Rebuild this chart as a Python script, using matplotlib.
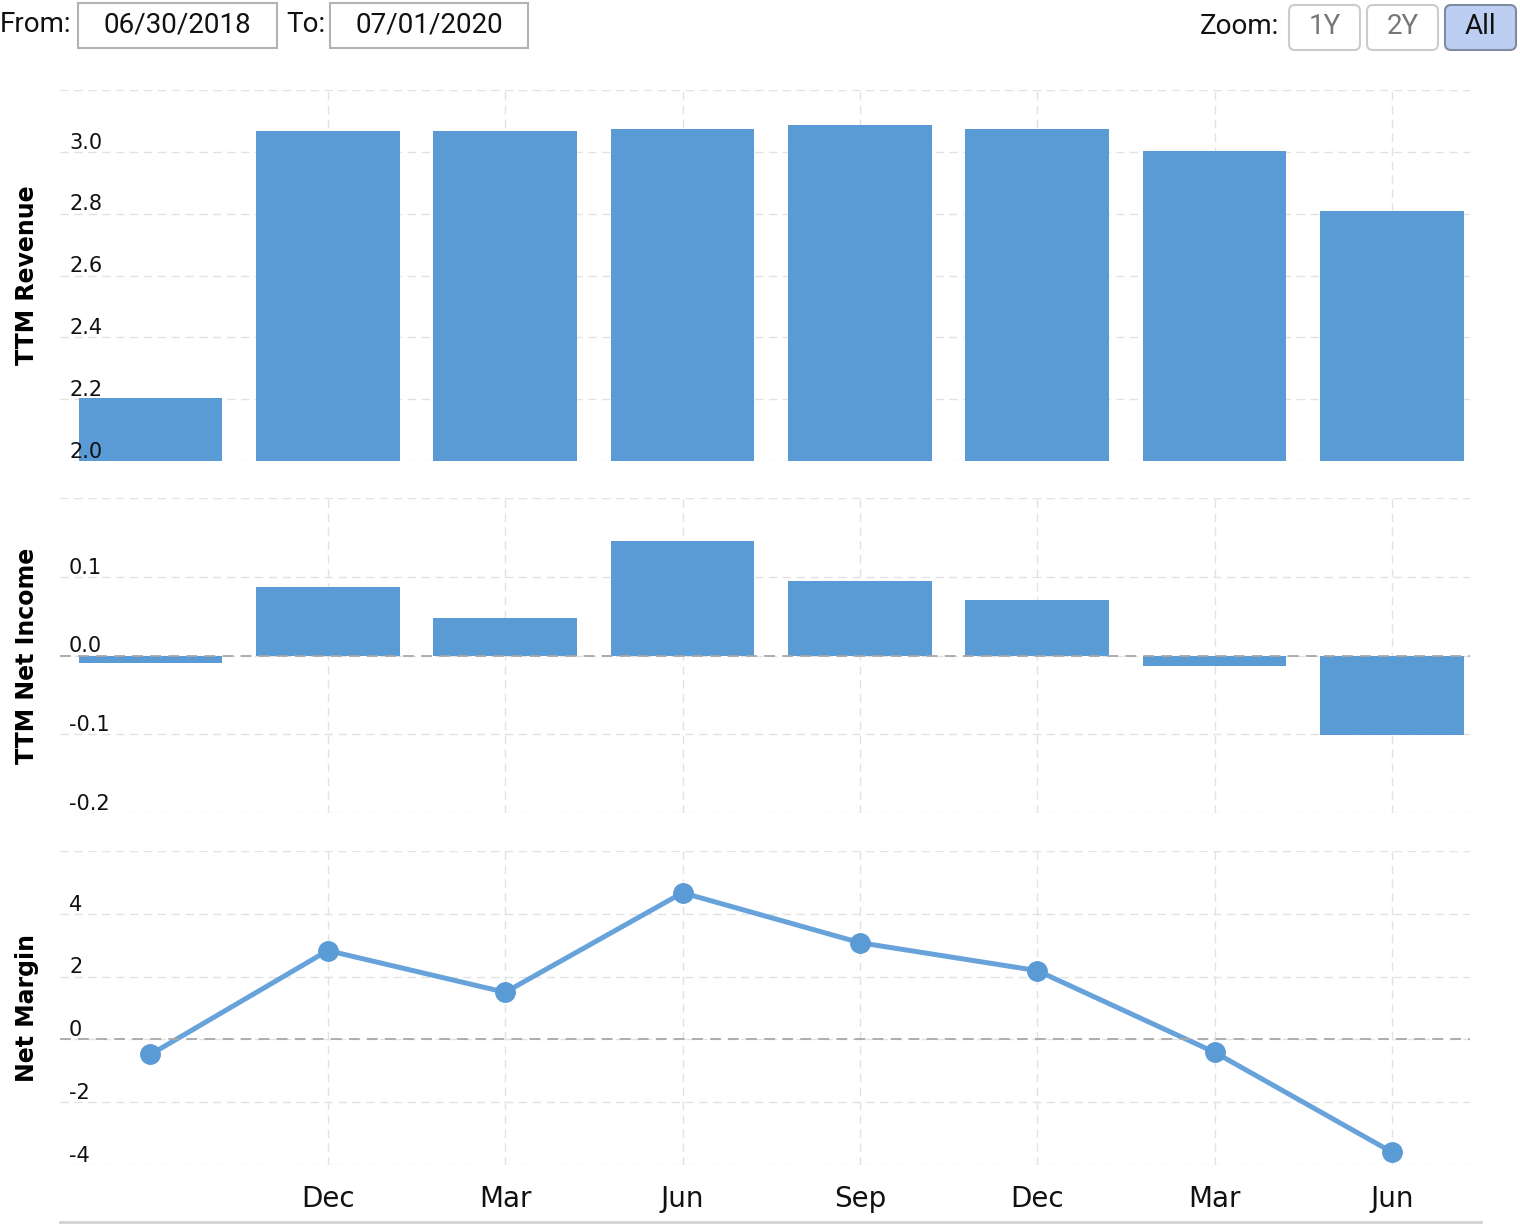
import matplotlib.pyplot as plt
from matplotlib.patches import FancyBboxPatch
from matplotlib.transforms import blended_transform_factory

# Quarterly data (TTM values, revenue / net income in billions, margin in %)
quarters = ["Sep 2018", "Dec 2018", "Mar 2019", "Jun 2019",
            "Sep 2019", "Dec 2019", "Mar 2020", "Jun 2020"]
month_labels = ["Dec", "Mar", "Jun", "Sep", "Dec", "Mar", "Jun"]
ttm_revenue = [2.203, 3.068, 3.068, 3.075, 3.088, 3.075, 3.003, 2.808]
ttm_net_income = [-0.010, 0.087, 0.047, 0.146, 0.095, 0.070, -0.013, -0.101]
net_margin = [-0.48, 2.83, 1.50, 4.67, 3.08, 2.19, -0.41, -3.59]

revenue_ticks = [2.0, 2.2, 2.4, 2.6, 2.8, 3.0, 3.2]
revenue_labels = ["2.0", "2.2", "2.4", "2.6", "2.8", "3.0", ""]
income_ticks = [-0.2, -0.1, 0.0, 0.1, 0.2]
income_labels = ["-0.2", "-0.1", "0.0", "0.1", ""]
margin_ticks = [-4, -2, 0, 2, 4, 6]
margin_labels = ["-4", "-2", "0", "2", "4", ""]

W, H = 1520, 1224
BLUE = "#5b9bd5"
GRID = "#e2e2e2"
DASH = (0, (6, 4))


def style_panel(ax, ticks, labels, ylabel, zero_line=False):
    """Common look for the three stacked panels."""
    x = range(len(quarters))
    ax.set_xlim(-0.51, 7.44)
    ax.set_ylim(ticks[0], ticks[-1])
    for spine in ax.spines.values():
        spine.set_visible(False)
    ax.set_yticks(ticks)
    ax.set_xticks(list(x)[1:])
    ax.tick_params(left=False, labelleft=False, bottom=False, labelbottom=False)
    ax.grid(True, color=GRID, linestyle=DASH, linewidth=1.0)
    ax.set_axisbelow(True)

    # tick labels sit inside the plot, just above their grid line
    trans = blended_transform_factory(ax.transAxes, ax.transData)
    for val, lab in zip(ticks, labels):
        ax.annotate(lab, xy=(0, val), xycoords=trans, xytext=(6.5, 2.3),
                    textcoords="offset points", ha="left", va="baseline",
                    fontsize=15, color="#111111", zorder=6)

    if zero_line:
        ax.axhline(0, color="#a8a8a8", linestyle=DASH, linewidth=1.3, zorder=5)

    ax.set_ylabel(ylabel, fontsize=17, fontweight="bold")
    ax.yaxis.set_label_coords(-(60 - 39) / 1410, 0.5)


fig = plt.figure(figsize=(W / 100, H / 100), dpi=100)

left, width = 60 / W, 1410 / W
ax_rev = fig.add_axes([left, 1 - 461 / H, width, 371 / H])
ax_inc = fig.add_axes([left, 1 - 813 / H, width, 315 / H])
ax_mar = fig.add_axes([left, 1 - 1165 / H, width, 314 / H])

xpos = list(range(len(quarters)))

# TTM Revenue
ax_rev.bar(xpos, [v - revenue_ticks[0] for v in ttm_revenue], bottom=revenue_ticks[0],
           width=0.81, color=BLUE, zorder=2)
style_panel(ax_rev, revenue_ticks, revenue_labels, "TTM Revenue")

# TTM Net Income
ax_inc.bar(xpos, ttm_net_income, width=0.81, color=BLUE, zorder=2)
style_panel(ax_inc, income_ticks, income_labels, "TTM Net Income", zero_line=True)

# Net Margin
ax_mar.plot(xpos, net_margin, color="#67a3da", linewidth=3.6, zorder=3)
ax_mar.plot(xpos, net_margin, "o", color=BLUE, markersize=14, zorder=4)
style_panel(ax_mar, margin_ticks, margin_labels, "Net Margin", zero_line=True)
ax_mar.tick_params(labelbottom=True, pad=11, labelsize=20, labelcolor="#111111")
ax_mar.set_xticklabels(month_labels)

# Range selector / zoom buttons drawn in pixel coordinates
ui = fig.add_axes([0, 0, 1, 1], zorder=-1)
ui.set_xlim(0, W)
ui.set_ylim(H, 0)
ui.axis("off")

ui_font = dict(family="Roboto", fontsize=20, color="#111111", va="center")
ui.text(0, 25, "From:", ha="left", **ui_font)
ui.text(286, 25, "To:", ha="left", **ui_font)
for x0, x1, label in [(78, 277, "06/30/2018"), (330, 528, "07/01/2020")]:
    ui.add_patch(FancyBboxPatch((x0, 3), x1 - x0, 45, boxstyle="square,pad=0",
                                facecolor="white", edgecolor="#b3b3b3", linewidth=1.5))
    ui.text((x0 + x1) / 2, 25, label, ha="center", **ui_font)

ui.text(1279, 27, "Zoom:", ha="right", **ui_font)
buttons = [(1289, "1Y", "white", "#cccccc", "#777777"),
           (1367, "2Y", "white", "#cccccc", "#777777"),
           (1445, "All", "#bccff3", "#7f8aa3", "#111111")]
for x0, label, fc, ec, tc in buttons:
    ui.add_patch(FancyBboxPatch((x0, 5), 71, 45,
                                boxstyle="round,pad=0,rounding_size=6",
                                facecolor=fc, edgecolor=ec, linewidth=1.5))
    ui.text(x0 + 35.5, 27, label, ha="center", va="center", family="Roboto",
            fontsize=20, color=tc)

ui.plot([60, 1481], [1222, 1222], color="#d3d3d3", linewidth=2)

fig.savefig("out.png", dpi=100)
